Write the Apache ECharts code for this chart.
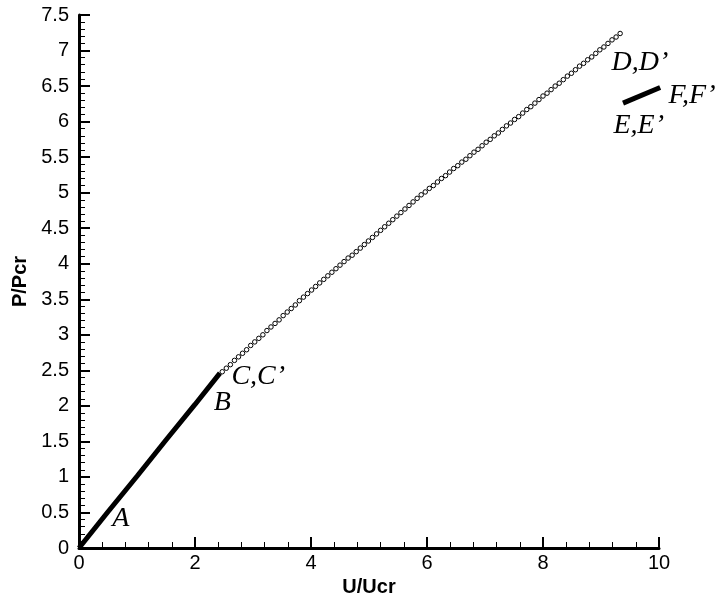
<!DOCTYPE html>
<html>
<head>
<meta charset="utf-8">
<script src="https://cdn.jsdelivr.net/npm/echarts@6/dist/echarts.min.js"></script>
<style>
html,body{margin:0;padding:0;background:#fff;}
#chart{width:722px;height:601px;}
</style>
</head>
<body>
<div id="chart"></div>
<script>
// Segment A-B (dense, thick)
var abU = [0, 0.5, 1.0, 1.5, 2.0, 2.43];
var abP = [0, 0.51, 1.01, 1.52, 2.02, 2.46];

// Segment C-D (open circles)
var cdU = [2.47,2.54,2.61,2.68,2.75,2.82,2.89,2.96,3.03,3.10,3.17,3.24,3.31,3.38,3.45,3.52,3.59,3.66,3.73,3.80,3.87,
  3.94,4.01,4.08,4.15,4.22,4.29,4.36,4.43,4.50,4.57,4.64,4.71,4.78,4.85,4.92,4.99,5.06,5.13,5.20,5.27,5.34,5.41,5.48,5.55,5.62,5.69,5.76,5.83,
  5.90,5.97,6.04,6.11,6.18,6.25,6.32,6.39,6.46,6.53,6.60,6.67,6.74,6.81,6.88,6.95,7.02,7.09,7.16,7.23,7.30,7.37,7.44,7.51,7.58,7.65,7.72,7.79,7.86,7.93,
  8.00,8.07,8.14,8.21,8.28,8.35,8.42,8.49,8.56,8.63,8.70,8.77,8.84,8.91,8.98,9.05,9.12,9.19,9.26,9.33];
var cdP = [2.48,2.53,2.58,2.64,2.69,2.74,2.79,2.85,2.90,2.95,3.00,3.06,3.11,3.16,3.21,3.27,3.32,3.37,3.42,3.48,3.53,
  3.58,3.63,3.68,3.73,3.78,3.83,3.88,3.93,3.98,4.03,4.08,4.12,4.17,4.22,4.27,4.32,4.37,4.42,4.47,4.52,4.57,4.62,4.67,4.72,4.77,4.82,4.87,4.92,
  4.97,5.01,5.06,5.10,5.15,5.20,5.24,5.29,5.34,5.38,5.43,5.47,5.52,5.57,5.61,5.66,5.71,5.75,5.80,5.84,5.89,5.94,5.98,6.03,6.07,6.12,6.17,6.21,6.26,6.31,
  6.36,6.40,6.45,6.50,6.54,6.59,6.64,6.68,6.73,6.78,6.82,6.87,6.91,6.96,7.01,7.05,7.10,7.15,7.19,7.24];

// Segment E-F (thick)
var efU = [9.38, 10.02];
var efP = [6.26, 6.48];

var xTicks = [0, 2, 4, 6, 8, 10];
var yTicks = [0, 0.5, 1, 1.5, 2, 2.5, 3, 3.5, 4, 4.5, 5, 5.5, 6, 6.5, 7, 7.5];

// Point labels (text centre, in data units)
var labelText = ['A', 'B', 'C,C\u2019', 'D,D\u2019', 'F,F\u2019', 'E,E\u2019'];
var labelU = [0.72, 2.47, 3.09, 9.67, 10.57, 9.65];
var labelP = [0.42, 2.04, 2.41, 6.83, 6.37, 5.94];

function zip(a, b) { return a.map(function (v, i) { return [v, b[i]]; }); }

var chart = echarts.init(document.getElementById('chart'));
var axisFont = {fontFamily: 'Liberation Sans, Arial, sans-serif', fontSize: 20, color: '#000'};
var nameFont = {fontFamily: 'Liberation Sans, Arial, sans-serif', fontSize: 20, fontWeight: 'bold', color: '#000'};
chart.setOption({
  animation: false,
  backgroundColor: '#fff',
  grid: {left: 79, right: 63, top: 15, bottom: 53, containLabel: false, outerBoundsMode: 'none'},
  xAxis: {
    type: 'value', min: 0, max: 10, interval: 2,
    name: 'U/Ucr', nameLocation: 'middle', nameGap: 25,
    nameTextStyle: nameFont,
    axisLine: {lineStyle: {color: '#000', width: 3}},
    axisTick: {inside: true, length: 11, lineStyle: {color: '#000', width: 2}},
    minorTick: {show: true, splitNumber: 5, length: 6, lineStyle: {color: '#000', width: 1}},
    axisLabel: Object.assign({margin: 5, formatter: function (v) { return String(v); }}, axisFont),
    splitLine: {show: false}
  },
  yAxis: {
    type: 'value', min: 0, max: 7.5, interval: 0.5,
    name: 'P/Pcr', nameLocation: 'middle', nameGap: 47,
    nameTextStyle: nameFont,
    axisLine: {lineStyle: {color: '#000', width: 3}},
    axisTick: {inside: true, length: 11, lineStyle: {color: '#000', width: 2}},
    minorTick: {show: true, splitNumber: 5, length: 6, lineStyle: {color: '#000', width: 1}},
    axisLabel: Object.assign({margin: 10, formatter: function (v) { return String(v); }}, axisFont),
    splitLine: {show: false}
  },
  series: [
    {
      type: 'line', data: zip(abU, abP), showSymbol: false, symbol: 'none',
      lineStyle: {color: '#000', width: 5}, z: 3
    },
    {
      type: 'scatter', data: zip(cdU, cdP), symbol: 'circle', symbolSize: 4.5,
      itemStyle: {color: '#fff', borderColor: '#000', borderWidth: 1, opacity: 1}, z: 3
    },
    {
      type: 'line', data: zip(efU, efP), symbol: 'none', clip: false,
      lineStyle: {color: '#000', width: 5}, z: 3
    },
    {
      type: 'scatter', symbolSize: 0, clip: false, silent: true,
      itemStyle: {opacity: 1},
      data: labelText.map(function (t, i) { return {value: [labelU[i], labelP[i]], name: t}; }),
      label: {
        show: true, position: 'inside', formatter: '{b}',
        fontFamily: 'Liberation Serif, Times New Roman, serif', fontStyle: 'italic',
        fontSize: 28, color: '#000', opacity: 1
      },
      z: 4
    }
  ]
});
</script>
</body>
</html>
